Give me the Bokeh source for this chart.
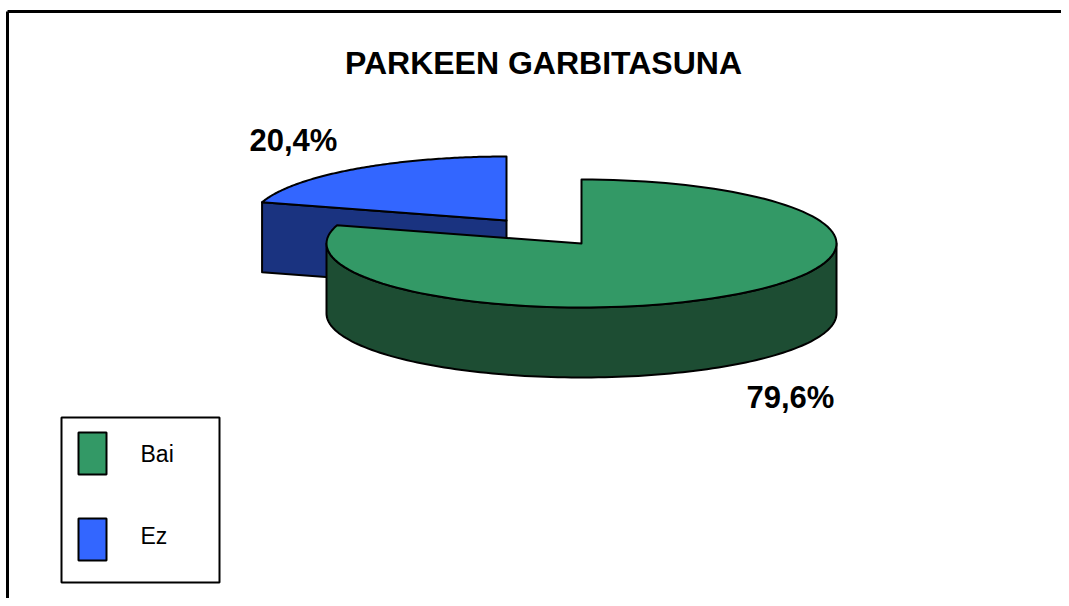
import numpy as np
from bokeh.plotting import figure
from bokeh.models import Range1d
from bokeh.core.properties import value
from bokeh.embed import file_html
from bokeh.resources import INLINE

# ---- data ----
categories = ["Bai", "Ez"]
values = [79.6, 20.4]
labels = ["79,6%", "20,4%"]
title_text = "PARKEEN GARBITASUNA"

top_colors = ["#339966", "#3366FF"]
side_colors = ["#1D4D33", "#1A3380"]

# ---- layout (figure pixel coords, y downward) ----
W, H = 1061, 598
base_c = (581.0, 243.0)
offsets = [(0.0, 0.0), (-75.0, -23.0)]   # explode offsets per slice
RX, RY, DEPTH = 255.0, 64.0, 70.0
label_pos = [(746, 397), (249, 140)]
FONT = value("Liberation Sans")

p = figure(width=W, height=H, output_backend="svg", toolbar_location=None,
           x_range=Range1d(0, W), y_range=Range1d(H, 0), min_border=0)
p.axis.visible = False
p.xgrid.visible = False
p.ygrid.visible = False
p.outline_line_color = None
p.background_fill_color = "white"
p.border_fill_color = "white"

# frame lines (top and left)
p.line([7, 7], [11, H], line_color="black", line_width=3)
p.line([7, W], [11, 11], line_color="black", line_width=3)

total = float(sum(values))
cum = np.cumsum([0] + list(values))
starts = [90 - 360 * cum[i] / total for i in range(len(values))]
ends = [90 - 360 * cum[i + 1] / total for i in range(len(values))]


def pt(cx, cy, t_deg, dz=0.0):
    t = np.radians(t_deg)
    return cx + RX * np.cos(t), cy - RY * np.sin(t) + dz


def arc(cx, cy, a, b, dz=0.0, n=120):
    ts = np.linspace(a, b, n)
    xs, ys = pt(cx, cy, ts, dz)
    return list(xs), list(ys)


centers = [(base_c[0] + o[0], base_c[1] + o[1]) for o in offsets]
order = sorted(range(len(values)), key=lambda i: centers[i][1])

for i in order:
    cx, cy = centers[i]
    a0, a1 = starts[i], ends[i]
    side_xs, side_ys = [], []
    # radial walls
    for edge, normal in ((a0, a0 + 90), (a1, a1 - 90)):
        if np.sin(np.radians(normal)) < -0.01:
            ex, ey = pt(cx, cy, edge)
            side_xs.append([cx, ex, ex, cx])
            side_ys.append([cy, ey, ey + DEPTH, cy + DEPTH])
    # outer wall: visible front half (sin < 0)
    lo, hi = min(a0, a1), max(a0, a1)
    for k in range(-2, 2):
        f0, f1 = -180 + 360 * k, 0 + 360 * k
        s, e = max(lo, f0), min(hi, f1)
        if e - s > 0.1:
            tx, ty = arc(cx, cy, e, s)
            bx, by = arc(cx, cy, s, e, DEPTH)
            side_xs.append(tx + bx)
            side_ys.append(ty + by)
    if side_xs:
        p.patches(side_xs, side_ys, fill_color=side_colors[i],
                  line_color="black", line_width=2, line_join="round")
    tx, ty = arc(cx, cy, a0, a1)
    p.patch([cx] + tx, [cy] + ty, fill_color=top_colors[i],
            line_color="black", line_width=2, line_join="round")

# percentage labels
p.text(x=[lp[0] for lp in label_pos], y=[lp[1] for lp in label_pos], text=labels,
       text_font=FONT, text_font_style="bold",
       text_font_size="31px", text_color="black",
       text_align="left", text_baseline="middle")

# title
p.text(x=[543], y=[62], text=[title_text], text_font=FONT,
       text_font_style="bold", text_font_size="32px", text_color="black",
       text_align="center", text_baseline="middle")

# legend
p.quad(left=[61], right=[219], top=[417], bottom=[582], fill_color="white",
       line_color="black", line_width=2)
sw_top = [432, 518]
p.quad(left=[78, 78], right=[106, 106], top=sw_top, bottom=[t + 42 for t in sw_top],
       fill_color=top_colors, line_color="black", line_width=2)
p.text(x=[140, 140], y=[453, 535], text=categories, text_font=FONT,
       text_font_size="23px", text_color="black", text_align="left",
       text_baseline="middle")

open("out.html", "w").write(file_html(p, INLINE))
